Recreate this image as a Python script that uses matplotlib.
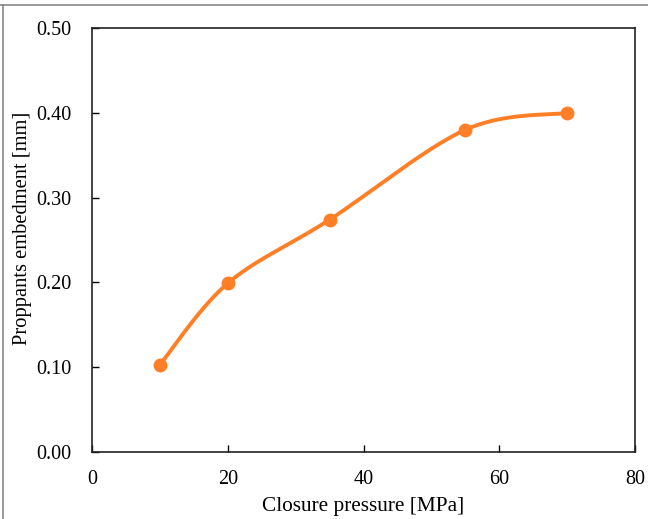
import numpy as np
import matplotlib.pyplot as plt
from matplotlib.lines import Line2D

# Data
pressure = [10, 20, 35, 55, 70]
embedment = [0.103, 0.199, 0.274, 0.380, 0.400]

x_ticks = [0, 20, 40, 60, 80]
y_ticks = [0.0, 0.1, 0.2, 0.3, 0.4, 0.5]


def smooth_line(x, y, n=40):
    # Excel-style smoothed line: Catmull-Rom through the points as cubic Beziers
    x = np.asarray(x, float)
    y = np.asarray(y, float)
    px = np.concatenate([[x[0]], x, [x[-1]]])
    py = np.concatenate([[y[0]], y, [y[-1]]])
    t = np.linspace(0, 1, n)[:, None]
    xs, ys = [], []
    for i in range(1, len(x)):
        p0 = np.array([px[i], py[i]])
        p3 = np.array([px[i + 1], py[i + 1]])
        c1 = p0 + (np.array([px[i + 1], py[i + 1]]) - np.array([px[i - 1], py[i - 1]])) / 6
        c2 = p3 - (np.array([px[i + 2], py[i + 2]]) - np.array([px[i], py[i]])) / 6
        pts = ((1 - t) ** 3) * p0 + 3 * ((1 - t) ** 2) * t * c1 + 3 * (1 - t) * t ** 2 * c2 + t ** 3 * p3
        xs.append(pts[:, 0])
        ys.append(pts[:, 1])
    return np.concatenate(xs), np.concatenate(ys)


plt.rcParams['font.family'] = ['Liberation Serif', 'DejaVu Serif']

fig = plt.figure(figsize=(6.48, 5.19), dpi=100)
ax = fig.add_axes([0.142, 0.129, 0.838, 0.817])

orange = '#FF7F27'
sx, sy = smooth_line(pressure, embedment)
ax.plot(sx, sy, color=orange, lw=2.8, solid_capstyle='round')
ax.plot(pressure, embedment, 'o', color=orange, ms=9)

ax.set_xlim(0, 80)
ax.set_ylim(0, 0.5)
ax.set_xticks(x_ticks)
ax.set_yticks(y_ticks)
ax.set_yticklabels([f'{v:.2f}' for v in y_ticks])
ax.tick_params(direction='in', length=5, width=1, labelsize=14.5)
ax.tick_params(axis='x', pad=13)
ax.tick_params(axis='y', pad=15)
for s in ax.spines.values():
    s.set_linewidth(1.2)
    s.set_color('#222222')

ax.set_xlabel('Closure pressure [MPa]', fontsize=15.3, va='center')
ax.xaxis.set_label_coords(0.5, -0.129)
ax.set_ylabel('Proppants embedment [mm]', fontsize=14.8, va='center')
ax.yaxis.set_label_coords(-0.128, 0.528)

# thin gray frame along the top and left edge of the image
fig.add_artist(Line2D([0, 1], [0.991, 0.991], transform=fig.transFigure, color='#888888', lw=1.2))
fig.add_artist(Line2D([0.005, 0.005], [0, 0.991], transform=fig.transFigure, color='#888888', lw=1.2))

fig.savefig('out.png', dpi=100)
